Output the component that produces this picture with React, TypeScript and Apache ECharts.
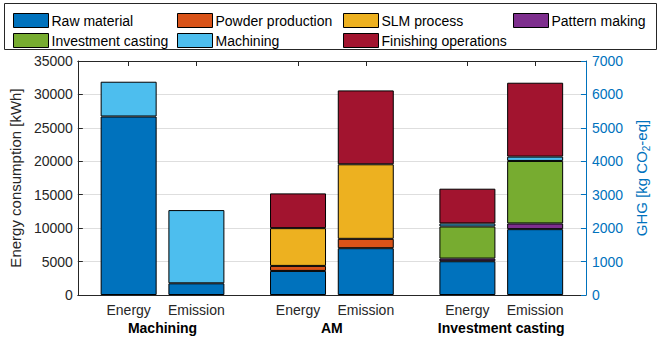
import React, { useEffect, useRef } from "react";
import * as echarts from "echarts";

// ---- data ----
const groups = ["Machining", "AM", "Investment casting"];
const barLabels = ["Energy", "Emission"];
const components = [
  "Raw material",
  "Powder production",
  "SLM process",
  "Pattern making",
  "Investment casting",
  "Machining",
  "Finishing operations",
];
const colors = ["#0072BD", "#D95319", "#EDB120", "#7E2F8E", "#77AC30", "#4DBEEE", "#A2142F"];

// Energy consumption [kWh] per group (Machining, AM, Investment casting)
const energyRawMaterial = [26700, 3600, 5050];
const energyPowderProduction = [0, 750, 0];
const energySLMProcess = [0, 5650, 0];
const energyPatternMaking = [0, 0, 400];
const energyInvestmentCasting = [0, 0, 4800];
const energyMachining = [5200, 0, 450];
const energyFinishing = [0, 5200, 5200];

// GHG emission [kg CO2-eq] per group
const ghgRawMaterial = [350, 1400, 1970];
const ghgPowderProduction = [0, 280, 0];
const ghgSLMProcess = [0, 2230, 0];
const ghgPatternMaking = [0, 0, 170];
const ghgInvestmentCasting = [0, 0, 1870];
const ghgMachining = [2190, 0, 130];
const ghgFinishing = [0, 2210, 2210];

const energyTicks = { min: 0, max: 35000, interval: 5000 };
const ghgTicks = { min: 0, max: 7000, interval: 1000 };

const energyData = [
  energyRawMaterial,
  energyPowderProduction,
  energySLMProcess,
  energyPatternMaking,
  energyInvestmentCasting,
  energyMachining,
  energyFinishing,
];
const ghgData = [
  ghgRawMaterial,
  ghgPowderProduction,
  ghgSLMProcess,
  ghgPatternMaking,
  ghgInvestmentCasting,
  ghgMachining,
  ghgFinishing,
];

// slot layout on a category axis: 5 slots per group
const SLOTS_PER_GROUP = 5;
const nSlots = groups.length * SLOTS_PER_GROUP;
const slotNames = Array.from({ length: nSlots }, (_, i) => "s" + i);
const barSlotLabels: string[] = Array(nSlots).fill("");
const groupSlotLabels: string[] = Array(nSlots).fill("");
groups.forEach((g, gi) => {
  barSlotLabels[gi * SLOTS_PER_GROUP + 1] = barLabels[0];
  barSlotLabels[gi * SLOTS_PER_GROUP + 3] = barLabels[1];
  groupSlotLabels[gi * SLOTS_PER_GROUP + 2] = g;
});

const FONT = "Arial, 'Liberation Sans', Helvetica, sans-serif";
const TXT = "#262626";
const BLUE = "#0072BD";

function toSlots(values: number[], offset: number) {
  const arr: any[] = Array(nSlots).fill("-");
  values.forEach((v, gi) => {
    if (v > 0) arr[gi * SLOTS_PER_GROUP + offset] = v;
  });
  return arr;
}

export default function App() {
  const ref = useRef<HTMLDivElement>(null);
  useEffect(() => {
    if (!ref.current) return;
    const chart = echarts.init(ref.current, undefined, { renderer: "svg" });

    const series: any[] = [];
    components.forEach((name, ci) => {
      const common = {
        name,
        type: "bar",
        stack: "all",
        barWidth: 56,
        xAxisIndex: 0,
        itemStyle: { color: colors[ci], borderColor: "#000", borderWidth: 1 },
        emphasis: { disabled: true },
      };
      series.push({ ...common, yAxisIndex: 0, data: toSlots(energyData[ci], 1) });
      series.push({ ...common, yAxisIndex: 1, data: toSlots(ghgData[ci], 3) });
    });

    const legendCols = [
      { left: 13, items: [components[0], components[4]] },
      { left: 177, items: [components[1], components[5]] },
      { left: 343, items: [components[2], components[6]] },
      { left: 513, items: [components[3]] },
    ];

    const plain = (v: number) => String(v);

    const option: any = {
      animation: false,
      textStyle: { fontFamily: FONT },
      legend: legendCols.map((c) => ({
        data: c.items,
        left: c.left,
        top: 13,
        orient: "vertical",
        itemWidth: 35,
        itemHeight: 14,
        itemGap: 5,
        padding: 0,
        icon: "rect",
        selectedMode: false,
        textStyle: { fontSize: 14, color: "#000", fontFamily: FONT, padding: [0, 0, 0, -2] },
        itemStyle: { borderColor: "#000", borderWidth: 1 },
      })),
      graphic: [
        {
          type: "rect",
          shape: { x: 4.5, y: 3.5, width: 652, height: 46 },
          style: { fill: "none", stroke: "#262626", lineWidth: 1 },
          z: -1,
        },
      ],
      grid: { left: 71, right: 58, top: 61, bottom: 43, containLabel: false },
      xAxis: [
        {
          type: "category",
          data: slotNames,
          position: "bottom",
          boundaryGap: true,
          axisLine: { show: true, lineStyle: { color: TXT, width: 1 } },
          axisTick: {
            show: true,
            inside: true,
            length: 5,
            alignWithLabel: true,
            interval: (i: number) => barSlotLabels[i] !== "",
            lineStyle: { color: TXT },
          },
          axisLabel: {
            interval: 0,
            margin: 8,
            fontSize: 14,
            color: TXT,
            fontFamily: FONT,
            formatter: (_v: string, i: number) => barSlotLabels[i],
          },
          splitLine: { show: false },
        },
        {
          type: "category",
          data: slotNames,
          position: "bottom",
          offset: 18,
          axisLine: { show: false },
          axisTick: { show: false },
          axisLabel: {
            interval: 0,
            margin: 8,
            fontSize: 14,
            fontWeight: "bold",
            color: "#000",
            fontFamily: FONT,
            formatter: (_v: string, i: number) => groupSlotLabels[i],
          },
          splitLine: { show: false },
        },
        {
          type: "category",
          data: slotNames,
          position: "top",
          axisLine: { show: true, lineStyle: { color: TXT, width: 1 } },
          axisTick: {
            show: true,
            inside: true,
            length: 5,
            alignWithLabel: true,
            interval: (i: number) => barSlotLabels[i] !== "",
            lineStyle: { color: TXT },
          },
          axisLabel: { show: false },
          splitLine: { show: false },
        },
      ],
      yAxis: [
        {
          type: "value",
          position: "left",
          min: energyTicks.min,
          max: energyTicks.max,
          interval: energyTicks.interval,
          name: "Energy consumption [kWh]",
          nameLocation: "middle",
          nameGap: 52,
          nameTextStyle: { fontSize: 15, color: TXT, fontFamily: FONT },
          axisLine: { show: true, lineStyle: { color: TXT, width: 1 } },
          axisTick: { show: true, inside: true, length: 5, lineStyle: { color: TXT } },
          axisLabel: { fontSize: 14, color: TXT, margin: 5, fontFamily: FONT, formatter: plain },
          splitLine: { show: true, lineStyle: { color: "#dedede", width: 1 } },
        },
        {
          type: "value",
          position: "right",
          min: ghgTicks.min,
          max: ghgTicks.max,
          interval: ghgTicks.interval,
          name: "GHG [kg CO{sub|2}-eq]",
          nameLocation: "middle",
          nameGap: 45,
          nameTextStyle: {
            fontSize: 15,
            color: BLUE,
            fontFamily: FONT,
            rich: {
              sub: { fontSize: 10, color: BLUE, fontFamily: FONT, verticalAlign: "bottom", padding: [9, 0, 0, 0] },
            },
          },
          axisLine: { show: true, lineStyle: { color: BLUE, width: 1 } },
          axisTick: { show: true, inside: true, length: 5, lineStyle: { color: BLUE } },
          axisLabel: { fontSize: 14, color: BLUE, margin: 6, fontFamily: FONT, formatter: plain },
          splitLine: { show: false },
        },
      ],
      series,
    };
    chart.setOption(option);
    return () => chart.dispose();
  }, []);

  return (
    <div
      ref={ref}
      style={{ position: "fixed", left: 0, top: 0, width: 659, height: 338, background: "#fff" }}
    />
  );
}
